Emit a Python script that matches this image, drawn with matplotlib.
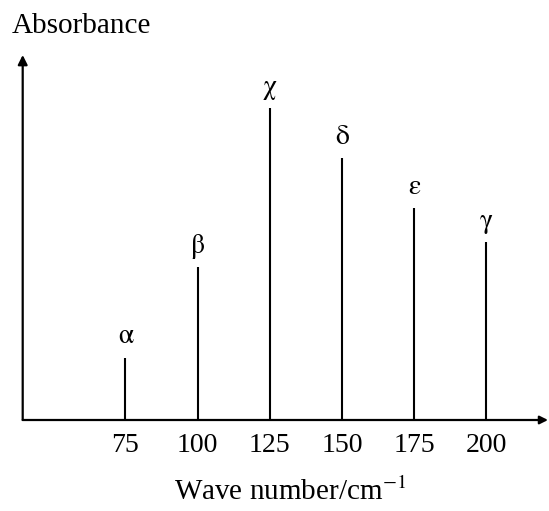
import matplotlib.pyplot as plt

plt.rcParams['font.family'] = ['Liberation Serif', 'DejaVu Serif']
plt.rcParams['mathtext.fontset'] = 'stix'

# peak positions (wave number, cm^-1) and relative absorbance
wavenumbers = [75, 100, 125, 150, 175, 200]
absorbance = [0.20, 0.49, 1.00, 0.84, 0.68, 0.57]
peak_names = ['α', 'β', 'χ', 'δ', 'ε', 'γ']
tick_values = [75, 100, 125, 150, 175, 200]

W, H = 549, 511
fig = plt.figure(figsize=(W / 100, H / 100), dpi=100)
# axes box in pixel terms: x 22.7..548, y 55..420 from top
ax = fig.add_axes([22.7 / W, 1 - 420 / H, (548 - 22.7) / W, (420 - 55) / H])
ax.set_xlim(39.5, 221.3)
ax.set_ylim(0, 1.17)

for s in ax.spines.values():
    s.set_visible(False)

# peaks
ax.vlines(wavenumbers, 0, absorbance, color='black', linewidth=1.5)
for x, y, name in zip(wavenumbers, absorbance, peak_names):
    ax.annotate(name, (x, y), xytext=(0, 15), textcoords='offset points',
                ha='center', va='center', fontsize=20, family='STIXGeneral')

# axes drawn as arrows
ax.annotate('', xy=(1.0, 0), xytext=(0, 0), xycoords='axes fraction',
            arrowprops=dict(arrowstyle='-|>', color='black', lw=1.6,
                            mutation_scale=12, shrinkA=0, shrinkB=0))
ax.annotate('', xy=(0, 1.0), xytext=(0, 0), xycoords='axes fraction',
            arrowprops=dict(arrowstyle='-|>', color='black', lw=1.6,
                            mutation_scale=14, shrinkA=0, shrinkB=0))

ax.set_xticks(tick_values)
ax.set_xticklabels([str(t) for t in tick_values], fontsize=20)
ax.tick_params(axis='x', length=0, pad=9)
ax.set_yticks([])

fig.text(12 / W, 1 - 33 / H, 'Absorbance', fontsize=21, va='baseline', ha='left')
fig.text(290 / W, 1 - 492 / H, 'Wave number/cm$^{-1}$', fontsize=21,
         va='center', ha='center')

fig.savefig('out.png', dpi=100)
